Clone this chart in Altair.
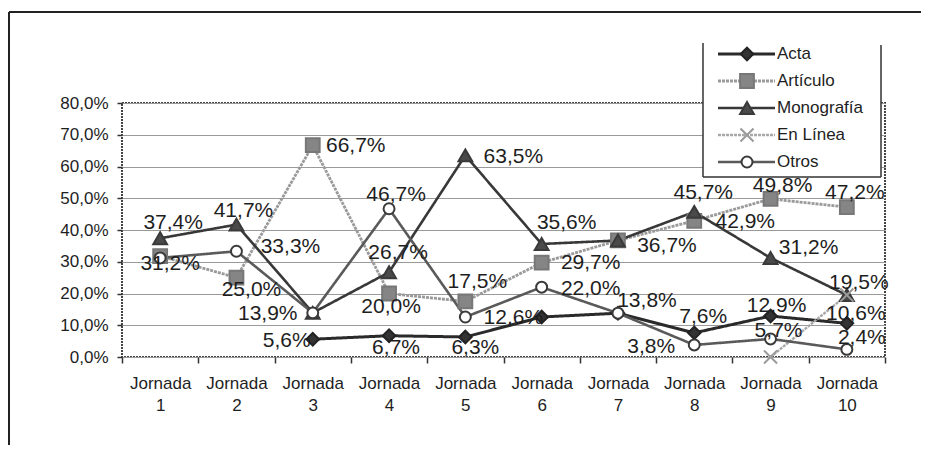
import altair as alt
import pandas as pd

# ---------------- data ----------------
categories = ["Jornada 1", "Jornada 2", "Jornada 3", "Jornada 4", "Jornada 5",
              "Jornada 6", "Jornada 7", "Jornada 8", "Jornada 9", "Jornada 10"]
series_names = ["Acta", "Artículo", "Monografía", "En Línea", "Otros"]

acta       = [None, None, 5.6, 6.7, 6.3, 12.6, 13.8, 7.6, 12.9, 10.6]
articulo   = [31.8, 25.0, 66.7, 20.0, 17.5, 29.7, 36.7, 42.9, 49.8, 47.2]
monografia = [37.4, 41.7, 13.9, 26.7, 63.5, 35.6, 36.7, 45.7, 31.2, 19.5]
en_linea   = [None, None, None, None, None, None, None, None, 0.0, 19.5]
otros      = [31.2, 33.3, 13.9, 46.7, 12.6, 22.0, 13.8, 3.8, 5.7, 2.4]

values_by_series = {
    "Acta": acta, "Artículo": articulo, "Monografía": monografia,
    "En Línea": en_linea, "Otros": otros,
}

# ---------------- styles ----------------
FONT = "Liberation Sans"
styles = {
    "Acta":       dict(line="#2a2a2a", lw=3.0, shape="diamond", size=160, fill="#333333", stroke="#222222", filled=True, dash=[1, 0]),
    "Artículo":   dict(line="#9a9a9a", lw=2.8, shape="square", size=190, fill="#858585", stroke="#777777", filled=True, dash=[3, 1]),
    "Monografía": dict(line="#383838", lw=2.6, shape="triangle-up", size=190, fill="#4a4a4a", stroke="#3a3a3a", filled=True, dash=[1, 0]),
    "En Línea":   dict(line="#a8a8a8", lw=2.4, shape="M-1,-1L1,1M-1,1L1,-1", size=170, fill="none", stroke="#9a9a9a", filled=False, dash=[3, 1]),
    "Otros":      dict(line="#5a5a5a", lw=2.6, shape="circle", size=120, fill="white", stroke="#3a3a3a", filled=False, dash=[1, 0]),
}

# label placement (pixel offsets from the point) keyed by series and category index
label_offsets = {
    "Acta": {2: (-26, 2), 3: (7, 12), 4: (10, 11), 6: (29, -12), 7: (9, -16), 8: (6, -10), 9: (9, -9)},
    "Artículo": {1: (15, 12), 2: (43, 1), 3: (2, 13), 4: (12, -19), 5: (49, 0), 6: (49, 6),
                 7: (51, 1), 8: (12, -13), 9: (8, -14)},
    "Monografía": {0: (13, -15), 1: (7, -14), 2: (-45, 1), 3: (9, -19), 4: (48, 2), 5: (25, -21),
                   7: (9, -19), 8: (38, -10), 9: (12, -12)},
    "Otros": {0: (10, 6), 1: (54, -4), 3: (7, -14), 4: (48, 1), 5: (49, 2), 7: (-43, 2),
              8: (8, -8), 9: (15, -11)},
}

W, H = 763, 254

x_enc = alt.X(
    "jornada:N",
    sort=categories,
    scale=alt.Scale(type="band", domain=categories, paddingInner=0, paddingOuter=0),
    bandPosition=0.5,
    axis=alt.Axis(
        title=None, labelAngle=0, grid=False, domain=False, ticks=True,
        tickBand="extent", tickSize=6, tickWidth=1.5, tickColor="#333",
        labelPadding=12, labelLineHeight=22,
        labelExpr="split(datum.label, ' ')",
    ),
)
y_enc = alt.Y(
    "value:Q",
    scale=alt.Scale(domain=[0, 80], nice=False, zero=True),
    axis=alt.Axis(
        title=None, values=list(range(0, 81, 10)), grid=True, gridColor="#9a9a9a",
        gridWidth=1, domain=False, tickSize=5, tickWidth=1.5, tickColor="#333",
        labelPadding=9,
        labelExpr="replace(format(datum.value, '.1f'), '.', ',') + '%'",
    ),
)

layers = []

# outer frame decorations
deco = pd.DataFrame({"k": [0]})
layers.append(
    alt.Chart(deco).mark_rule(color="#222", strokeWidth=2).encode(
        x=alt.value(-113), x2=alt.value(840), y=alt.value(-91))
)
layers.append(
    alt.Chart(deco).mark_rule(color="#222", strokeWidth=2).encode(
        x=alt.value(-113), y=alt.value(-91), y2=alt.value(400))
)

for name in series_names:
    st = styles[name]
    df = pd.DataFrame({"jornada": categories, "value": values_by_series[name]}).dropna()
    layers.append(
        alt.Chart(df).mark_line(color=st["line"], strokeWidth=st["lw"], strokeDash=st["dash"]).encode(
            x=x_enc, y=y_enc)
    )
for name in series_names:
    st = styles[name]
    df = pd.DataFrame({"jornada": categories, "value": values_by_series[name]}).dropna()
    layers.append(
        alt.Chart(df).mark_point(
            shape=st["shape"], size=st["size"], filled=st["filled"],
            fill=st["fill"], stroke=st["stroke"], strokeWidth=2, opacity=1,
        ).encode(x=x_enc, y=y_enc)
    )

# data labels
for name, offs in label_offsets.items():
    vals = values_by_series[name]
    for idx, (dx, dy) in offs.items():
        v = vals[idx]
        df = pd.DataFrame({
            "jornada": [categories[idx]], "value": [v],
            "label": [f"{v:.1f}".replace(".", ",") + "%"],
        })
        layers.append(
            alt.Chart(df).mark_text(
                dx=dx, dy=dy, align="center", baseline="middle",
                font=FONT, fontSize=21, color="#1e1e1e",
            ).encode(x=x_enc, y=y_enc, text="label:N")
        )

# legend box
layers.append(
    alt.Chart(deco).mark_rect(fill="white").encode(
        x=alt.value(581), x2=alt.value(759), y=alt.value(-60), y2=alt.value(74))
)
for xa, xb, ya, yb in [(581, 581, -60, 74), (759, 759, -58, 74), (581, 759, 74, 74)]:
    layers.append(
        alt.Chart(deco).mark_rule(color="#333", strokeWidth=1.5).encode(
            x=alt.value(xa), x2=alt.value(xb), y=alt.value(ya), y2=alt.value(yb))
    )
for i, name in enumerate(series_names):
    st = styles[name]
    ly = -49 + 27 * i
    ldf = pd.DataFrame({"s": [name]})
    layers.append(
        alt.Chart(ldf).mark_rule(color=st["line"], strokeWidth=st["lw"], strokeDash=st["dash"]).encode(
            x=alt.value(596), x2=alt.value(653), y=alt.value(ly))
    )
    layers.append(
        alt.Chart(ldf).mark_point(
            shape=st["shape"], size=st["size"], filled=st["filled"],
            fill=st["fill"], stroke=st["stroke"], strokeWidth=2, opacity=1,
        ).encode(x=alt.value(625), y=alt.value(ly))
    )
    layers.append(
        alt.Chart(ldf).mark_text(align="left", baseline="middle", font=FONT, fontSize=17, color="#1e1e1e").encode(
            x=alt.value(655), y=alt.value(ly), text="s:N")
    )

chart = alt.layer(*layers).properties(
    width=W, height=H,
    autosize=alt.AutoSizeParams(type="none"),
    padding={"left": 114, "top": 95, "right": 36, "bottom": 88},
    background="white",
).configure_view(
    stroke="#444", strokeWidth=2, strokeDash=[2, 1]
).configure_axis(
    labelFont=FONT, labelFontSize=17, labelColor="#1e1e1e"
)

chart.save("out.html", embed_options={"renderer": "svg", "actions": False})
